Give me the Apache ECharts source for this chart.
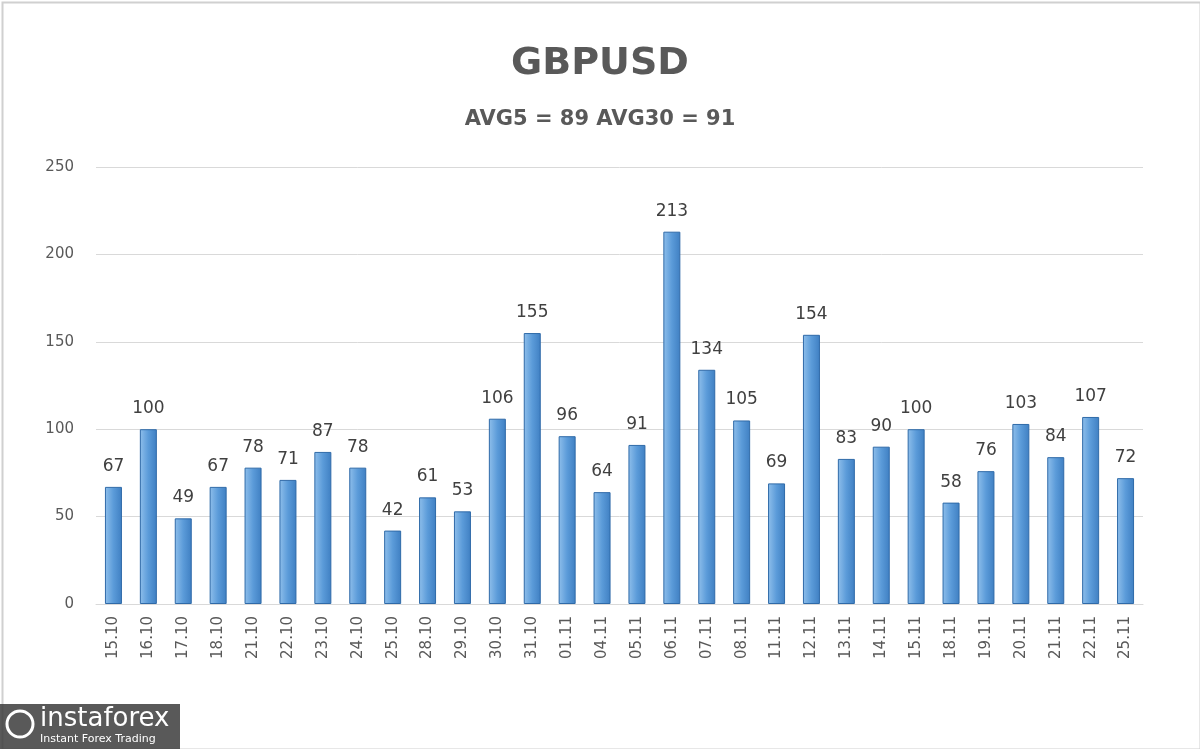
<!DOCTYPE html>
<html>
<head>
<meta charset="utf-8">
<script src="https://cdn.jsdelivr.net/npm/echarts@6/dist/echarts.min.js"></script>
<style>
  html, body { margin: 0; padding: 0; background: #fff; }
  #chart { width: 1200px; height: 749px; }
</style>
</head>
<body>
<div id="chart"></div>
<script>
const dates = [
  '15.10', '16.10', '17.10', '18.10', '21.10', '22.10', '23.10', '24.10', '25.10', '28.10',
  '29.10', '30.10', '31.10', '01.11', '04.11', '05.11', '06.11', '07.11', '08.11', '11.11',
  '12.11', '13.11', '14.11', '15.11', '18.11', '19.11', '20.11', '21.11', '22.11', '25.11',
]

const range = [
  67, 100, 49, 67, 78, 71, 87, 78, 42, 61,
  53, 106, 155, 96, 64, 91, 213, 134, 105, 69,
  154, 83, 90, 100, 58, 76, 103, 84, 107, 72,
]

const textColor = '#595959'

echarts.init(document.getElementById('chart')).setOption({
  backgroundColor: '#fff',
  animation: false,
  title: [
    {
      text: 'GBPUSD',
      left: 'center',
      top: 40,
      textStyle: { fontFamily: 'DejaVu Sans', fontSize: 38, fontWeight: 'bold', color: textColor },
    },
    {
      text: 'AVG5 = 89 AVG30 = 91',
      left: 'center',
      top: 104,
      textStyle: { fontFamily: 'DejaVu Sans', fontSize: 21, fontWeight: 'bold', color: textColor },
    },
  ],
  grid: {
    left: 96,
    right: 57,
    top: 167,
    bottom: 145,
  },
  xAxis: {
    type: 'category',
    data: dates,
    axisLine: { lineStyle: { color: '#d9d9d9' } },
    axisTick: { show: false },
    axisLabel: {
      rotate: 90,
      color: textColor,
      fontFamily: 'DejaVu Sans',
      fontSize: 15,
      margin: 12,
    },
  },
  yAxis: {
    type: 'value',
    min: 0,
    max: 250,
    interval: 50,
    axisLine: { show: false },
    axisTick: { show: false },
    splitLine: { lineStyle: { color: '#d9d9d9' } },
    axisLabel: {
      color: textColor,
      fontFamily: 'DejaVu Sans',
      fontSize: 15,
      margin: 22,
    },
  },
  series: [
    {
      type: 'bar',
      data: range,
      barWidth: 17,
      itemStyle: {
        color: new echarts.graphic.LinearGradient(0, 0, 1, 0, [
          { offset: 0, color: '#8fbfeb' },
          { offset: 0.5, color: '#5b9bd9' },
          { offset: 1, color: '#3f7fc2' },
        ]),
        borderColor: '#2f6aa8',
        borderWidth: 1,
      },
      label: {
        show: true,
        position: 'top',
        distance: 12,
        color: '#404040',
        fontFamily: 'DejaVu Sans',
        fontSize: 17,
      },
    },
  ],
  graphic: [
    {
      type: 'rect',
      left: 0,
      top: 0,
      shape: { width: 1198, height: 747 },
      style: { fill: 'none', stroke: '#d0d0d0', lineWidth: 2 },
    },
    {
      type: 'rect',
      left: 0,
      top: 704,
      shape: { width: 180, height: 45 },
      style: { fill: 'rgba(60,60,60,0.85)' },
    },
    {
      type: 'text',
      left: 40,
      top: 706,
      style: { text: 'instaforex', fill: '#fff', fontFamily: 'DejaVu Sans', fontSize: 26 },
    },
    {
      type: 'text',
      left: 40,
      top: 734,
      style: { text: 'Instant Forex Trading', fill: '#fff', fontFamily: 'DejaVu Sans', fontSize: 11 },
    },
    {
      type: 'circle',
      shape: { cx: 20, cy: 724, r: 13 },
      style: { fill: 'none', stroke: '#fff', lineWidth: 3 },
    },
  ],
})
</script>
</body>
</html>
